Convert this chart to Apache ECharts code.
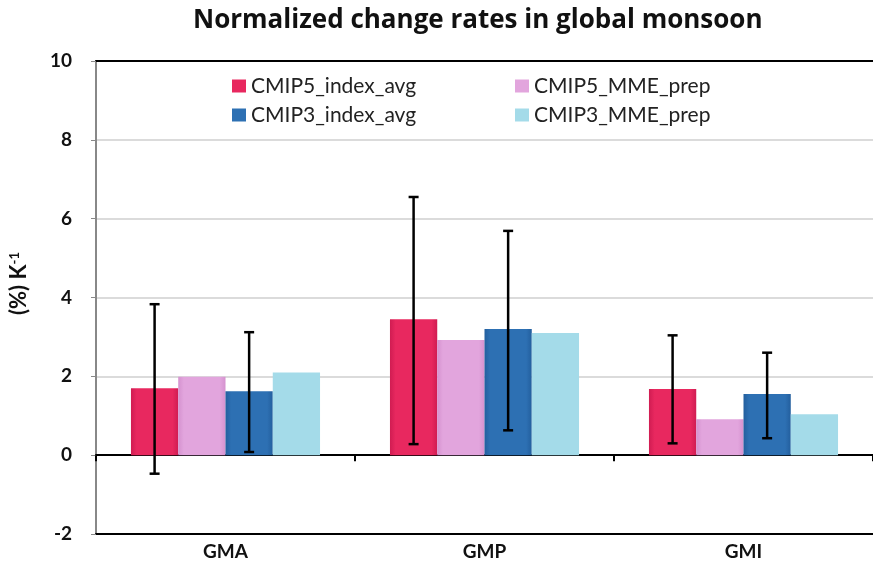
<!DOCTYPE html>
<html><head><meta charset="utf-8">
<script src="https://cdn.jsdelivr.net/npm/echarts@6/dist/echarts.min.js"></script>
<style>html,body{margin:0;padding:0;background:#fff}#c{width:873px;height:574px}</style>
</head><body><div id="c"></div>
<script>
const categories = ['GMA', 'GMP', 'GMI'];
const seriesNames = ['CMIP5_index_avg', 'CMIP5_MME_prep', 'CMIP3_index_avg', 'CMIP3_MME_prep'];
const cmip5Index = [1.70, 3.45, 1.68];
const cmip5Mme = [1.99, 2.92, 0.91];
const cmip3Index = [1.62, 3.20, 1.55];
const cmip3Mme = [2.10, 3.10, 1.04];
const cmip5Low = [-0.47, 0.28, 0.30];
const cmip5High = [3.83, 6.55, 3.04];
const cmip3Low = [0.08, 0.63, 0.43];
const cmip3High = [3.12, 5.69, 2.60];
const yTicks = { min: -2, max: 10, interval: 2 };

const FONT = 'Lato';
const CAT_GAP = 0.27;

function grad(edge, mid) {
  return new echarts.graphic.LinearGradient(0, 0, 1, 0, [
    { offset: 0, color: edge }, { offset: 0.12, color: mid },
    { offset: 0.88, color: mid }, { offset: 1, color: edge }
  ]);
}
const colors = [
  grad('#d01c52', '#e8285f'),
  grad('#d592cf', '#e2a5dd'),
  grad('#235f9e', '#2d70b3'),
  grad('#a4dbe9', '#a4dbe9')
];
const legendColors = ['#e8285f', '#e2a5dd', '#2d70b3', '#a4dbe9'];

function errData(low, high, pos) {
  return categories.map((c, i) => [i, low[i], high[i], pos]);
}
function renderErr(params, api) {
  const x = api.value(0);
  const lo = api.coord([x, api.value(1)]);
  const hi = api.coord([x, api.value(2)]);
  const band = api.size([1, 0])[0];
  const barW = band * (1 - CAT_GAP) / 4;
  const px = lo[0] + (api.value(3) - 1.5) * barW;
  const cap = 5;
  const st = { stroke: '#000', lineWidth: 2.5 };
  return {
    type: 'group',
    children: [
      { type: 'line', shape: { x1: px, y1: hi[1], x2: px, y2: lo[1] }, style: st },
      { type: 'line', shape: { x1: px - cap, y1: hi[1], x2: px + cap, y2: hi[1] }, style: st },
      { type: 'line', shape: { x1: px - cap, y1: lo[1], x2: px + cap, y2: lo[1] }, style: st }
    ]
  };
}

const values = [cmip5Index, cmip5Mme, cmip3Index, cmip3Mme];
const barSeries = seriesNames.map((n, k) => ({
  name: n, type: 'bar', xAxisIndex: 0, yAxisIndex: 0,
  data: values[k], barGap: '0%', barCategoryGap: (CAT_GAP * 100) + '%',
  itemStyle: { color: colors[k] },
  emphasis: { disabled: true }
}));

const legendText = { fontFamily: FONT, fontSize: 21, lineHeight: 22, color: '#222' };

const chart = echarts.init(document.getElementById('c'));
chart.setOption({
  animation: false,
  color: legendColors,
  title: {
    text: 'Normalized change rates in global monsoon',
    left: 188, top: 3,
    textStyle: { fontFamily: 'Open Sans', fontWeight: 'bold', fontSize: 26, color: '#111' }
  },
  legend: [
    {
      data: [seriesNames[0], seriesNames[2]].map((n, j) => ({ name: n, itemStyle: { color: legendColors[j * 2] } })),
      orient: 'vertical', left: 227, top: 70, itemGap: 7,
      itemWidth: 14, itemHeight: 13, icon: 'rect',
      textStyle: legendText
    },
    {
      data: [seriesNames[1], seriesNames[3]].map((n, j) => ({ name: n, itemStyle: { color: legendColors[j * 2 + 1] } })),
      orient: 'vertical', left: 510, top: 70, itemGap: 7,
      itemWidth: 14, itemHeight: 13, icon: 'rect',
      textStyle: legendText
    }
  ],
  grid: { left: 95, right: -4, top: 61, bottom: 40, containLabel: false },
  xAxis: [
    {
      type: 'category', data: categories, position: 'bottom',
      axisLine: { onZero: false, lineStyle: { color: '#000', width: 2 } },
      axisTick: { show: false },
      axisLabel: { margin: 8, fontFamily: FONT, fontWeight: 'bold', fontSize: 19, color: '#111' }
    },
    {
      type: 'category', data: categories, position: 'bottom',
      axisLine: { onZero: true, onZeroAxisIndex: 0, lineStyle: { color: '#000', width: 2 } },
      axisTick: { show: true, length: 6, lineStyle: { color: '#000', width: 2 } },
      axisLabel: { show: false }
    },
    {
      type: 'category', data: categories, position: 'top',
      axisLine: { lineStyle: { color: '#000', width: 2 } },
      axisTick: { show: false }, axisLabel: { show: false }
    }
  ],
  yAxis: {
    type: 'value', min: yTicks.min, max: yTicks.max, interval: yTicks.interval,
    name: '{a|(%) K}{s|-1}', nameLocation: 'middle', nameRotate: 90, nameGap: 66,
    nameTextStyle: {
      padding: [0, 0, 0, 28],
      rich: {
        a: { fontFamily: FONT, fontWeight: 'bold', fontSize: 22, color: '#111' },
        s: { fontFamily: FONT, fontWeight: 'bold', fontSize: 13, color: '#111', verticalAlign: 'top', padding: [0, 0, 9, 0] }
      }
    },
    axisLine: { show: true, lineStyle: { color: '#888', width: 2 } },
    axisTick: { show: true, length: 5, lineStyle: { color: '#888' } },
    axisLabel: { margin: 24, fontFamily: FONT, fontWeight: 'bold', fontSize: 19, color: '#111' },
    splitLine: { show: true, lineStyle: { color: '#cfcfcf', width: 1.5 } }
  },
  series: barSeries.concat([
    { name: 'err5', type: 'custom', renderItem: renderErr, data: errData(cmip5Low, cmip5High, 0),
      encode: { x: 0, y: [1, 2] }, z: 5, silent: true },
    { name: 'err3', type: 'custom', renderItem: renderErr, data: errData(cmip3Low, cmip3High, 2),
      encode: { x: 0, y: [1, 2] }, z: 5, silent: true }
  ])
});
</script></body></html>
